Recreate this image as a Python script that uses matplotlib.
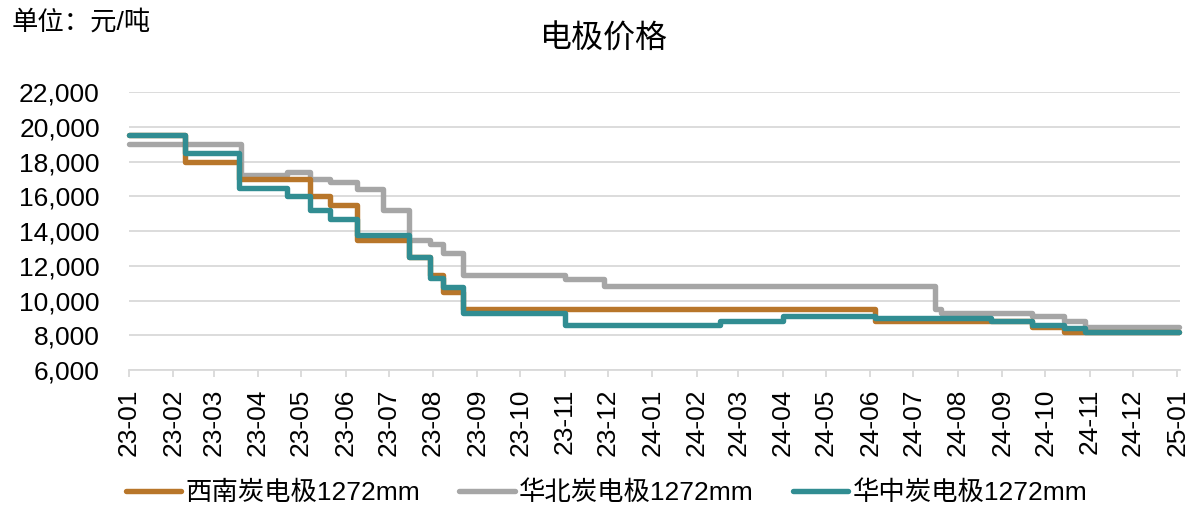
import pandas as pd
import matplotlib
matplotlib.use("Agg")
import matplotlib.pyplot as plt
import matplotlib.dates as mdates
from matplotlib.ticker import FuncFormatter

plt.rcParams['font.family'] = ['Liberation Sans', 'Noto Sans CJK SC', 'DejaVu Sans']

# price change dates and levels (yuan/ton), held until next change
xn_dates = ['2023-01-01', '2023-02-09', '2023-03-19', '2023-05-07', '2023-05-21', '2023-06-09',
            '2023-07-15', '2023-07-30', '2023-08-08', '2023-08-22', '2024-06-04', '2024-09-22',
            '2024-10-14', '2025-01-02']
xn_vals = [19500, 18000, 17000, 16000, 15500, 13500, 12500, 11500, 10500, 9500, 8800, 8500,
           8200, 8200]

hb_dates = ['2023-01-01', '2023-03-20', '2023-04-21', '2023-05-07', '2023-05-21', '2023-06-09',
            '2023-06-27', '2023-07-15', '2023-07-30', '2023-08-08', '2023-08-22', '2023-11-01',
            '2023-11-28', '2024-07-16', '2024-07-20', '2024-09-22', '2024-10-14', '2024-10-29',
            '2025-01-02']
hb_vals = [19000, 17250, 17400, 17000, 16800, 16400, 15200, 13500, 13250, 12750, 11500, 11250,
           10850, 9500, 9300, 9100, 8800, 8500, 8500]

hz_dates = ['2023-01-01', '2023-02-09', '2023-03-19', '2023-04-21', '2023-05-07', '2023-05-21',
            '2023-06-09', '2023-07-15', '2023-07-30', '2023-08-08', '2023-08-22', '2023-11-01',
            '2024-02-17', '2024-04-01', '2024-06-04', '2024-08-24', '2024-09-22', '2024-10-14',
            '2024-10-29', '2025-01-02']
hz_vals = [19500, 18500, 16500, 16000, 15200, 14700, 13800, 12500, 11300, 10800, 9300, 8600,
           8850, 9100, 9000, 8850, 8600, 8450, 8200, 8200]

fig = plt.figure(figsize=(11.89, 5.07), dpi=100)
ax = fig.add_axes([0.1085, 0.27, 0.884, 0.5485])

lw = 3.9
ax.plot(pd.to_datetime(hb_dates), hb_vals, drawstyle='steps-post', color='#A6A6A6', lw=lw,
        label='华北炭电极1272mm', solid_capstyle='round', solid_joinstyle='round', clip_on=False)
ax.plot(pd.to_datetime(xn_dates), xn_vals, drawstyle='steps-post', color='#B8762A', lw=lw,
        label='西南炭电极1272mm', solid_capstyle='round', solid_joinstyle='round', clip_on=False)
ax.plot(pd.to_datetime(hz_dates), hz_vals, drawstyle='steps-post', color='#318D92', lw=lw,
        label='华中炭电极1272mm', solid_capstyle='round', solid_joinstyle='round', clip_on=False)

ax.set_ylim(6000, 22000)
ax.set_yticks(range(6000, 22001, 2000))
ax.yaxis.set_major_formatter(FuncFormatter(lambda v, p: f'{int(v):,}'))
ax.set_xlim(pd.Timestamp('2023-01-01'), pd.Timestamp('2025-01-03'))
ax.xaxis.set_major_locator(mdates.MonthLocator())
ax.xaxis.set_major_formatter(mdates.DateFormatter('%y-%m'))
plt.setp(ax.get_xticklabels(), rotation=90)

ax.grid(axis='y', color='#D9D9D9', lw=1.3)
ax.set_axisbelow(True)
for s in ['top', 'right', 'left']:
    ax.spines[s].set_visible(False)
ax.spines['bottom'].set_color('#D9D9D9')
ax.spines['bottom'].set_linewidth(1.3)
ax.tick_params(axis='y', length=0, labelsize=19, pad=21)
ax.tick_params(axis='x', length=5, width=1.3, color='#D9D9D9', labelsize=19, direction='out', pad=8)

fig.text(0.508, 0.921, '电极价格', ha='center', va='center', fontsize=23)
fig.text(0.01, 0.957, '单位：元/吨', ha='left', va='center', fontsize=19)

handles, labels = ax.get_legend_handles_labels()
order = [1, 0, 2]
fig.legend([handles[i] for i in order], [labels[i] for i in order], loc='center',
           bbox_to_anchor=(0.51, 0.028), ncol=3, frameon=False, fontsize=19,
           handlelength=2.1, handletextpad=0.15, columnspacing=1.5)

fig.savefig('out.png', dpi=100)
